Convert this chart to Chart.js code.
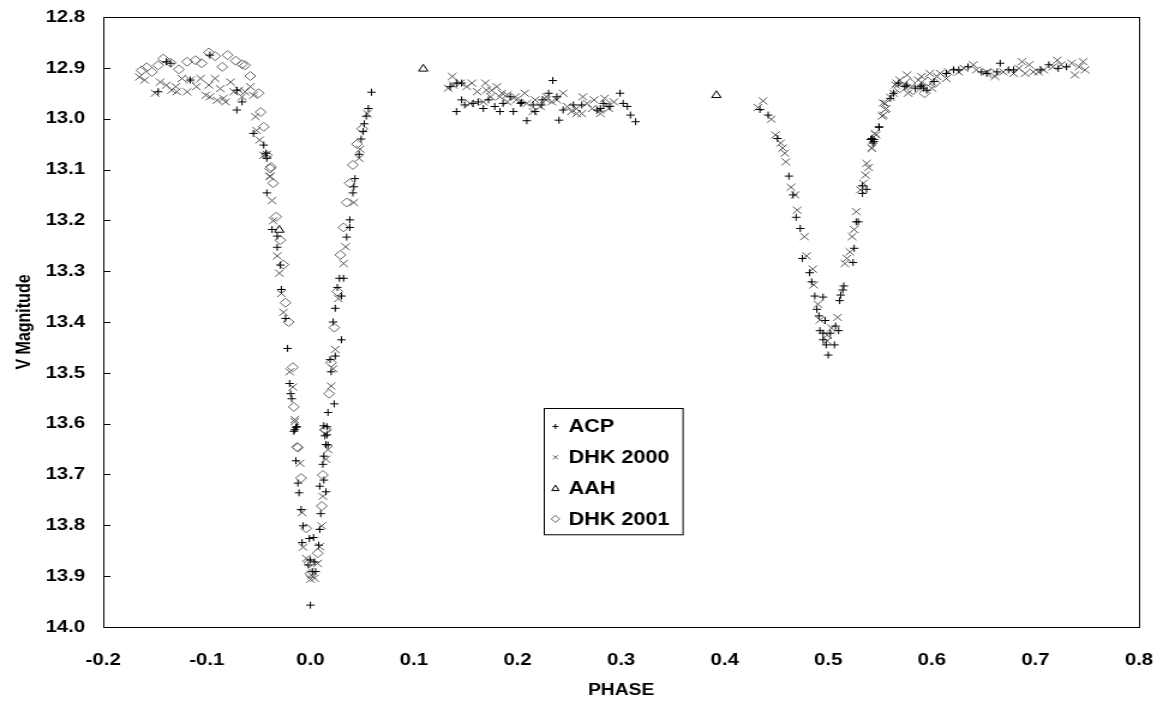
<!DOCTYPE html>
<html>
<head>
<meta charset="utf-8">
<script src="https://cdn.jsdelivr.net/npm/chart.js@4"></script>
<style>
  body { margin: 0; background: #fff; }
  #chart { display: block; width: 1163px !important; height: 706px !important; }
</style>
</head>
<body>
<canvas id="chart" width="969" height="706" style="width:1163px;height:706px"></canvas>
<script>
// phase, V magnitude
const acp = [
  [-0.147,12.947],[-0.139,12.888],[-0.135,12.891],[-0.116,12.924],[-0.097,12.875],[-0.071,12.944],[-0.071,12.983],
  [-0.066,12.967],[-0.055,13.029],[-0.045,13.052],[-0.043,13.068],[-0.042,13.078],
  [-0.042,13.146],[-0.037,13.218],[-0.032,13.231],[-0.032,13.253],[-0.029,13.288],[-0.028,13.336],[-0.024,13.393],
  [-0.022,13.452],[-0.020,13.521],[-0.019,13.541],[-0.018,13.551],[-0.014,13.607],[-0.016,13.615],[-0.015,13.612],
  [-0.013,13.606],[-0.014,13.673],[-0.012,13.717],[-0.011,13.736],[-0.009,13.769],[-0.007,13.801],[-0.001,13.826],
  [-0.008,13.834],[0.000,13.868],[-0.002,13.878],[0.002,13.891],[0.000,13.957],
  [0.016,13.606],[0.016,13.622],[0.017,13.642],[0.013,13.664],[0.012,13.680],[0.013,13.711],[0.009,13.723],
  [0.015,13.734],[0.010,13.777],[0.009,13.808],[0.003,13.824],[0.008,13.839],[0.004,13.872],[0.005,13.891],
  [0.043,13.118],[0.042,13.134],[0.041,13.146],[0.038,13.199],[0.038,13.214],[0.035,13.233],[0.028,13.314],
  [0.032,13.314],[0.026,13.332],[0.030,13.349],[0.024,13.373],[0.022,13.400],[0.030,13.435],[0.024,13.467],
  [0.019,13.474],[0.020,13.498],[0.023,13.561],[0.017,13.578],[0.013,13.604],[0.014,13.624],[0.015,13.641],
  [0.059,12.948],[0.056,12.980],[0.054,12.995],[0.052,13.010],[0.051,13.025],[0.049,13.040],[0.047,13.070],
  [0.135,12.937],[0.141,12.930],[0.146,12.930],[0.146,12.963],[0.141,12.986],[0.149,12.973],[0.157,12.970],
  [0.162,12.967],[0.167,12.980],[0.172,12.963],[0.178,12.976],[0.183,12.986],[0.186,12.970],[0.196,12.986],
  [0.203,12.970],[0.209,13.004],[0.217,12.986],[0.215,12.973],[0.223,12.973],[0.230,12.950],[0.234,12.925],
  [0.240,13.003],[0.244,12.983],[0.254,12.973],[0.262,12.973],[0.277,12.983],[0.283,12.970],[0.289,12.976],
  [0.299,12.950],[0.302,12.970],[0.306,12.976],[0.309,12.993],[0.314,13.006],[0.193,12.957],[0.204,12.968],
  [0.224,12.963],[0.238,12.957],[0.280,12.980],
  [0.434,12.982],[0.442,12.993],[0.451,13.039],[0.462,13.113],[0.466,13.150],[0.469,13.194],[0.473,13.216],
  [0.475,13.275],[0.482,13.303],[0.484,13.321],[0.487,13.349],[0.495,13.351],[0.489,13.375],[0.491,13.388],
  [0.497,13.397],[0.492,13.417],[0.495,13.422],[0.502,13.422],[0.495,13.435],[0.498,13.445],[0.506,13.445],
  [0.500,13.465],[0.507,13.408],[0.510,13.417],[0.511,13.358],[0.512,13.347],[0.514,13.337],[0.515,13.329],
  [0.524,13.283],[0.525,13.255],[0.527,13.203],[0.529,13.203],[0.533,13.147],[0.537,13.139],[0.533,13.132],
  [0.543,13.048],[0.544,13.041],[0.541,13.041],[0.549,13.016],[0.563,12.950],
  [0.544,13.045],[0.542,13.039],[0.549,13.017],[0.560,12.960],[0.574,12.937],[0.589,12.937],[0.592,12.940],
  [0.621,12.904],[0.635,12.898],[0.648,12.908],[0.666,12.891],[0.674,12.904],[0.713,12.894],[0.730,12.898],
  [0.568,12.930],[0.576,12.934],[0.584,12.940],[0.590,12.934],[0.595,12.944],[0.602,12.927],[0.614,12.911],
  [0.626,12.904],[0.653,12.911],[0.663,12.908],[0.679,12.904],[0.705,12.904],[0.722,12.901]
];

const dhk2000 = [
  [-0.165,12.918],[-0.160,12.924],[-0.150,12.950],[-0.145,12.928],[-0.139,12.934],[-0.134,12.944],[-0.130,12.937],
  [-0.129,12.947],[-0.124,12.921],[-0.119,12.947],[-0.116,12.924],[-0.110,12.937],[-0.106,12.921],[-0.101,12.954],
  [-0.098,12.934],[-0.097,12.957],[-0.092,12.921],[-0.090,12.964],[-0.087,12.941],[-0.084,12.960],[-0.082,12.967],
  [-0.077,12.928],[-0.074,12.947],[-0.069,12.944],[-0.066,12.957],[-0.063,12.947],[-0.058,12.937],[-0.055,12.954],
  [-0.053,12.996],[-0.052,13.023],[-0.049,13.042],[-0.045,13.072],[-0.039,13.114],
  [-0.039,13.113],[-0.037,13.161],[-0.036,13.201],[-0.032,13.270],[-0.030,13.304],[-0.028,13.344],[-0.026,13.381],
  [-0.020,13.498],[-0.017,13.528],[-0.015,13.592],[-0.015,13.596],[-0.010,13.678],[-0.008,13.775],[-0.007,13.843],
  [-0.004,13.865],[0.001,13.898],[0.000,13.906],[-0.042,13.070],
  [0.017,13.651],[0.015,13.670],[0.012,13.743],[0.011,13.801],[0.009,13.842],[0.007,13.875],[0.004,13.904],
  [0.047,13.078],[0.042,13.165],[0.034,13.252],[0.032,13.285],[0.027,13.354],[0.024,13.454],[0.022,13.492],
  [0.020,13.526],[0.055,12.990],[0.048,13.060],
  [0.137,12.917],[0.133,12.940],[0.138,12.934],[0.145,12.930],[0.151,12.937],[0.156,12.930],[0.161,12.947],
  [0.169,12.930],[0.170,12.944],[0.175,12.944],[0.180,12.937],[0.183,12.957],[0.190,12.953],[0.198,12.957],
  [0.199,12.963],[0.207,12.950],[0.209,12.970],[0.217,12.963],[0.222,12.976],[0.228,12.963],[0.233,12.967],
  [0.238,12.963],[0.244,12.950],[0.248,12.976],[0.252,12.986],[0.257,12.980],[0.263,12.957],[0.267,12.970],
  [0.272,12.980],[0.274,12.963],[0.280,12.990],[0.284,12.960],[0.286,12.973],[0.293,12.967],[0.167,12.967],
  [0.154,12.970],[0.190,12.967],[0.257,12.990],[0.262,12.990],[0.280,12.983],[0.288,12.980],[0.174,12.957],
  [0.185,12.950],[0.228,12.957],[0.215,12.986],
  [0.437,12.965],[0.432,12.978],[0.445,13.001],[0.449,13.032],[0.454,13.048],[0.456,13.058],[0.458,13.068],
  [0.459,13.085],[0.464,13.135],[0.468,13.150],[0.470,13.180],[0.477,13.232],[0.479,13.270],[0.485,13.296],
  [0.486,13.327],[0.490,13.365],[0.492,13.396],[0.499,13.426],[0.499,13.437],[0.503,13.412],[0.509,13.391],
  [0.516,13.285],[0.518,13.275],[0.521,13.262],[0.523,13.232],[0.525,13.218],[0.527,13.183],[0.531,13.140],
  [0.534,13.127],[0.536,13.111],[0.539,13.096],[0.537,13.088],[0.542,13.058],[0.545,13.029],[0.553,12.993],
  [0.556,12.980],[0.555,12.970],[0.560,12.958],[0.566,12.930],
  [0.542,13.058],[0.546,13.032],[0.552,12.995],[0.555,12.982],[0.553,12.969],[0.563,12.950],[0.565,12.934],
  [0.569,12.924],[0.576,12.914],[0.577,12.950],[0.587,12.924],[0.590,12.917],[0.598,12.911],[0.600,12.940],
  [0.605,12.917],[0.608,12.911],[0.614,12.921],[0.616,12.908],[0.626,12.908],[0.631,12.901],[0.640,12.894],
  [0.643,12.904],[0.653,12.908],[0.661,12.917],[0.669,12.908],[0.679,12.911],[0.684,12.901],[0.687,12.888],
  [0.690,12.911],[0.694,12.894],[0.698,12.908],[0.703,12.908],[0.708,12.904],[0.717,12.898],[0.721,12.885],
  [0.725,12.894],[0.735,12.891],[0.738,12.914],[0.742,12.898],[0.746,12.888],[0.748,12.904]
];

const aah = [[0.109,12.902],[0.392,12.954],[-0.030,13.219]];

const dhk2001 = [
  [-0.163,12.905],[-0.158,12.899],[-0.153,12.908],[-0.147,12.895],[-0.142,12.882],[-0.135,12.890],[-0.127,12.903],
  [-0.119,12.888],[-0.111,12.885],[-0.105,12.891],[-0.098,12.870],[-0.092,12.877],[-0.085,12.898],[-0.080,12.875],
  [-0.072,12.886],[-0.066,12.893],[-0.063,12.895],[-0.058,12.916],[-0.050,12.950],[-0.048,12.987],[-0.045,13.016],
  [-0.042,13.072],[-0.038,13.095],
  [-0.039,13.098],[-0.036,13.127],[-0.033,13.193],[-0.029,13.239],[-0.026,13.287],[-0.024,13.362],[-0.021,13.400],
  [-0.017,13.489],[-0.016,13.567],[-0.013,13.646],[-0.012,13.647],[-0.009,13.707],[-0.004,13.806],[-0.001,13.874],
  [0.000,13.895],
  [0.015,13.612],[0.012,13.701],[0.011,13.762],[0.007,13.855],[0.041,13.091],[0.038,13.127],[0.035,13.165],
  [0.032,13.214],[0.029,13.268],[0.026,13.340],[0.023,13.411],[0.020,13.480],[0.018,13.541],[0.014,13.612],
  [0.050,13.020],[0.045,13.050],
  [0.569,12.940],[0.579,12.930],[0.582,12.944],[0.593,12.950],[0.596,12.927],[0.603,12.930],[0.658,12.911]
];

const seriesNames = ['ACP', 'DHK 2000', 'AAH', 'DHK 2001'];
const phaseMin = -0.2, phaseMax = 0.8;
const magMin = 12.8, magMax = 14.0;

Chart.defaults.font.family = "'Liberation Sans', Arial, sans-serif";
Chart.defaults.color = '#000';

function pts(arr) {
  return arr.map(p => ({ x: p[0], y: p[1] }));
}

function fmt(v) {
  return (Math.abs(v) < 1e-9 ? 0 : v).toFixed(1);
}

// box round the plot and the short inward ticks on the left axis
const frame = {
  id: 'frame',
  afterDatasetsDraw(chart) {
    const { ctx, chartArea: a, scales } = chart;
    ctx.save();
    ctx.strokeStyle = '#000';
    ctx.lineWidth = 1;
    ctx.strokeRect(a.left + 0.5, a.top + 0.5, a.right - a.left, a.bottom - a.top);
    scales.y.ticks.forEach(t => {
      const py = Math.round(scales.y.getPixelForValue(t.value)) + 0.5;
      ctx.beginPath();
      ctx.moveTo(a.left, py);
      ctx.lineTo(a.left + 6, py);
      ctx.stroke();
    });
    ctx.restore();
  }
};

// legend box sitting inside the plot
const boxLegend = {
  id: 'boxLegend',
  afterDraw(chart) {
    const { ctx, chartArea: a } = chart;
    const w = a.right - a.left, h = a.bottom - a.top;
    const left = a.left + w * 0.425, top = a.top + h * 0.641;
    const bw = w * 0.134, bh = h * 0.207;
    ctx.save();
    ctx.fillStyle = '#fff';
    ctx.fillRect(left, top, bw, bh);
    ctx.strokeStyle = '#000';
    ctx.lineWidth = 1;
    ctx.strokeRect(Math.round(left) + 0.5, Math.round(top) + 0.5, bw, bh);
    ctx.font = "bold 18px 'Liberation Sans', Arial, sans-serif";
    ctx.textBaseline = 'middle';
    ctx.fillStyle = '#000';
    const step = bh / 4.1;
    chart.data.datasets.forEach((ds, i) => {
      const y = top + step * (i + 0.6);
      const mx = left + 10;
      ctx.strokeStyle = ds.borderColor;
      ctx.beginPath();
      if (ds.pointStyle === 'cross') {
        ctx.moveTo(mx - 2.5, y); ctx.lineTo(mx + 2.5, y);
        ctx.moveTo(mx, y - 2.5); ctx.lineTo(mx, y + 2.5);
      } else if (ds.pointStyle === 'crossRot') {
        ctx.moveTo(mx - 2, y - 2); ctx.lineTo(mx + 2, y + 2);
        ctx.moveTo(mx + 2, y - 2); ctx.lineTo(mx - 2, y + 2);
      } else if (ds.pointStyle === 'triangle') {
        ctx.moveTo(mx, y - 3); ctx.lineTo(mx + 3, y + 2.5); ctx.lineTo(mx - 3, y + 2.5); ctx.closePath();
      } else {
        ctx.moveTo(mx, y - 3.5); ctx.lineTo(mx + 3.5, y); ctx.lineTo(mx, y + 3.5); ctx.lineTo(mx - 3.5, y); ctx.closePath();
      }
      ctx.stroke();
      ctx.fillText(ds.label, left + 21, y + 1);
    });
    ctx.restore();
  }
};

new Chart(document.getElementById('chart'), {
  type: 'scatter',
  data: {
    datasets: [
      { label: seriesNames[0], data: pts(acp), pointStyle: 'cross', pointRadius: 3.5,
        borderColor: '#000', backgroundColor: '#000', borderWidth: 1 },
      { label: seriesNames[1], data: pts(dhk2000), pointStyle: 'crossRot', pointRadius: 5,
        borderColor: '#555', backgroundColor: '#555', borderWidth: 1 },
      { label: seriesNames[2], data: pts(aah), pointStyle: 'triangle', pointRadius: 4.5,
        borderColor: '#000', backgroundColor: 'rgba(0,0,0,0)', borderWidth: 1 },
      { label: seriesNames[3], data: pts(dhk2001), pointStyle: 'rectRot', pointRadius: 4.5,
        borderColor: '#666', backgroundColor: 'rgba(0,0,0,0)', borderWidth: 1 }
    ]
  },
  options: {
    responsive: false,
    devicePixelRatio: 1,
    animation: false,
    layout: { padding: { top: 17, right: 20, left: 0, bottom: 0 } },
    plugins: { legend: { display: false }, tooltip: { enabled: false } },
    scales: {
      x: {
        type: 'linear', min: phaseMin, max: phaseMax,
        grid: { display: false, drawTicks: false },
        border: { display: false },
        ticks: { stepSize: 0.1, padding: 23, font: { size: 17, weight: 'bold' }, callback: fmt },
        title: { display: true, text: 'PHASE', font: { size: 16, weight: 'bold' }, padding: { top: 0, bottom: 6 } },
        afterFit(s) { s.height = 79; s.paddingLeft = 0; s.paddingRight = 0; }
      },
      y: {
        type: 'linear', min: magMin, max: magMax, reverse: true,
        grid: { display: false, drawTicks: false },
        border: { display: false },
        ticks: { stepSize: 0.1, padding: 15, font: { size: 17, weight: 'bold' }, callback: fmt },
        title: { display: true, text: 'V Magnitude', font: { size: 16, weight: 'bold' }, padding: { top: 11, bottom: 0 } },
        afterFit(s) { s.width = 86; s.paddingTop = 0; s.paddingBottom = 0; }
      }
    }
  },
  plugins: [frame, boxLegend]
});
</script>
</body>
</html>
